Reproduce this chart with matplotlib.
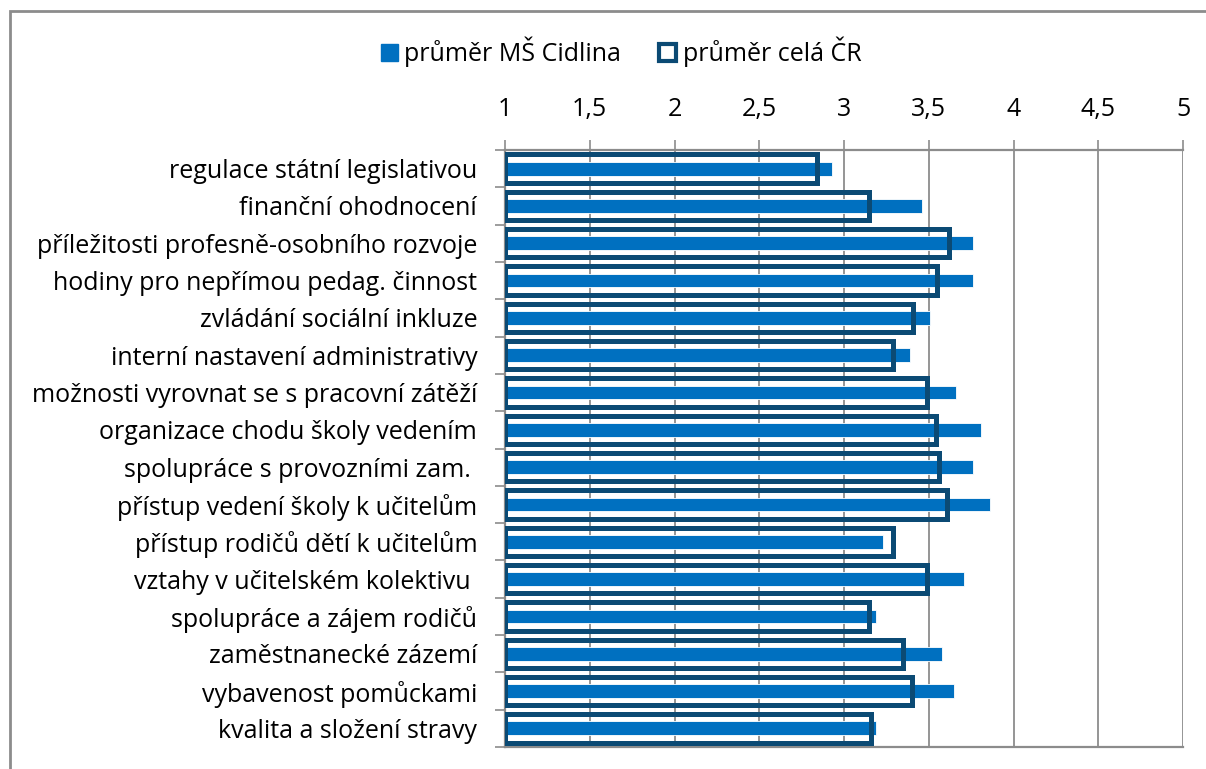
import matplotlib.pyplot as plt
from matplotlib.patches import Rectangle, Patch
import numpy as np

plt.rcParams['font.family'] = ['Open Sans', 'DejaVu Sans']

categories = [
    'regulace státní legislativou',
    'finanční ohodnocení',
    'příležitosti profesně-osobního rozvoje',
    'hodiny pro nepřímou pedag. činnost',
    'zvládání sociální inkluze',
    'interní nastavení administrativy',
    'možnosti vyrovnat se s pracovní zátěží',
    'organizace chodu školy vedením',
    'spolupráce s provozními zam. ',
    'přístup vedení školy k učitelům',
    'přístup rodičů dětí k učitelům',
    'vztahy v učitelském kolektivu ',
    'spolupráce a zájem rodičů',
    'zaměstnanecké zázemí',
    'vybavenost pomůckami',
    'kvalita a složení stravy',
]
ms_cidlina = [2.93, 3.46, 3.76, 3.76, 3.51, 3.39, 3.66, 3.81,
              3.76, 3.86, 3.23, 3.71, 3.19, 3.58, 3.65, 3.19]
cela_cr = [2.84, 3.15, 3.62, 3.55, 3.41, 3.29, 3.49, 3.54,
           3.56, 3.61, 3.29, 3.49, 3.15, 3.35, 3.40, 3.16]
ticks = [1, 1.5, 2, 2.5, 3, 3.5, 4, 4.5, 5]
tick_labels = ['1', '1,5', '2', '2,5', '3', '3,5', '4', '4,5', '5']

blue = '#0070C0'
dark = '#0B4A74'
grey = '#8C8C8C'
fs = 18

fig = plt.figure(figsize=(12.06, 7.69), dpi=100)
ax = fig.add_axes([505 / 1206, 1 - 747 / 769, 678 / 1206, 597 / 769])

y = np.arange(len(categories))
ax.barh(y, np.array(ms_cidlina) - 1, left=1, height=0.37, color=blue,
        edgecolor='white', linewidth=0.6, zorder=3)
ax.barh(y, np.array(cela_cr) - 1, left=1, height=0.76, fill=False,
        edgecolor=dark, linewidth=3.6, zorder=4)

ax.set_xlim(1, 5)
ax.set_ylim(len(categories) - 0.5, -0.5)
ax.set_xticks(ticks)
ax.set_xticklabels(tick_labels)
ax.xaxis.tick_top()
ax.tick_params(axis='x', length=7, width=1.2, color=grey, labelsize=fs,
               pad=13)
ax.set_yticks(y)
ax.set_yticklabels(categories)
ax.set_yticks(np.arange(len(categories) + 1) - 0.5, minor=True)
ax.tick_params(axis='y', which='major', length=0, labelsize=fs, pad=20)
ax.tick_params(axis='y', which='minor', length=7, width=1.2, color=grey)
ax.grid(axis='x', color=grey, linewidth=1.3, zorder=0)
ax.set_axisbelow(True)
for side in ['top', 'left', 'bottom']:
    ax.spines[side].set_color(grey)
    ax.spines[side].set_linewidth(1.6)
ax.spines['right'].set_visible(False)

handles = [Patch(facecolor=blue, edgecolor=blue),
           Patch(facecolor='white', edgecolor=dark, linewidth=3)]
fig.legend(handles, ['průměr MŠ Cidlina', 'průměr celá ČR'],
           loc='center', bbox_to_anchor=(621 / 1206, 1 - 52 / 769), ncol=2,
           frameon=False, fontsize=fs, handlelength=0.7, handleheight=0.7,
           handletextpad=0.25, columnspacing=1.5)

fig.patches.append(Rectangle((9.5 / 1206, -0.1), 1.2, 1.1 - 10.5 / 769,
                             transform=fig.transFigure, fill=False,
                             edgecolor=grey, linewidth=2))

fig.savefig('out.png', dpi=100)
